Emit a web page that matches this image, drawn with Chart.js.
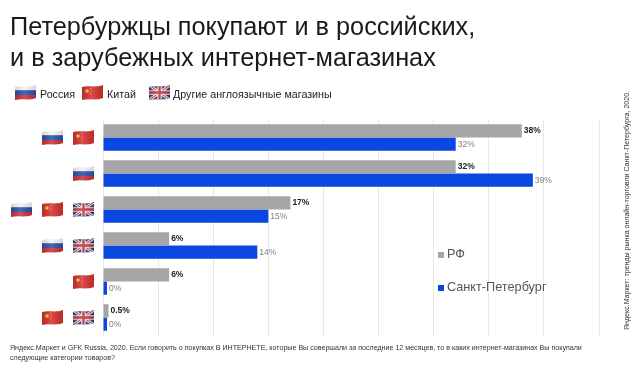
<!DOCTYPE html>
<html lang="ru">
<head>
<meta charset="utf-8">
<title>Петербуржцы покупают</title>
<script src="https://cdn.jsdelivr.net/npm/chart.js@4"></script>
<style>
    html, body { margin: 0; padding: 0; background: #fff; }
    body { width: 639px; height: 366px; position: relative; overflow: hidden; font-family: "Liberation Sans", sans-serif; color: #222; }
    canvas { position: absolute; left: 0; top: 0; }
    .abs { position: absolute; white-space: nowrap; }
    .title { left: 10px; top: 11px; font-size: 25.3px; line-height: 31px; color: #1a1a1a; }
    .key { top: 87px; font-size: 10.7px; line-height: 14px; }
    .flag { position: absolute; width: 21px; height: 15px; }
    .note { left: 10px; top: 344px; font-size: 7.1px; line-height: 9.5px; color: #333; }
    .side { left: 622px; top: 330px; font-size: 7.05px; line-height: 9px; color: #333; transform-origin: 0 0; transform: rotate(-90deg); }
    .series { font-size: 12.7px; line-height: 15px; color: #555; }
    .swatch { position: absolute; width: 6px; height: 6px; }
</style>
</head>
<body>
<svg width="0" height="0" style="position:absolute">
    <defs>
        <clipPath id="wave"><path d="M0 2C7 0 13 3 21 0V13C13 16 7 13 0 15Z"/></clipPath>
        <linearGradient id="shade" x1="0" x2="1" y1="0" y2="0">
            <stop offset="0" stop-color="#000" stop-opacity=".12"/>
            <stop offset=".45" stop-color="#fff" stop-opacity=".14"/>
            <stop offset="1" stop-color="#000" stop-opacity=".12"/>
        </linearGradient>
        <symbol id="ru" viewBox="0 0 21 15">
            <g clip-path="url(#wave)">
                <rect width="21" height="15" fill="#f4f4f6"/>
                <rect y="5.2" width="21" height="5" fill="#2b4fa8"/>
                <rect y="10" width="21" height="5" fill="#c8313a"/>
                <rect width="21" height="15" fill="url(#shade)"/>
            </g>
        </symbol>
        <symbol id="cn" viewBox="0 0 21 15">
            <g clip-path="url(#wave)">
                <rect width="21" height="15" fill="#d4302c"/>
                <circle cx="5" cy="6" r="1.8" fill="#f4c63a"/>
                <circle cx="8.5" cy="3.6" r=".5" fill="#f4c63a"/>
                <circle cx="9.2" cy="6" r=".5" fill="#f4c63a"/>
                <circle cx="8.3" cy="8.3" r=".5" fill="#f4c63a"/>
                <rect width="21" height="15" fill="url(#shade)"/>
            </g>
        </symbol>
        <symbol id="uk" viewBox="0 0 21 15">
            <g clip-path="url(#wave)">
                <rect width="21" height="15" fill="#2c3f85"/>
                <path d="M0 0L21 15M21 0L0 15" stroke="#eee" stroke-width="3"/>
                <path d="M0 0L21 15M21 0L0 15" stroke="#c9303a" stroke-width="1"/>
                <path d="M10.5 0V15M0 7.5H21" stroke="#eee" stroke-width="4.4"/>
                <path d="M10.5 0V15M0 7.5H21" stroke="#c9303a" stroke-width="2.4"/>
                <rect width="21" height="15" fill="url(#shade)"/>
            </g>
        </symbol>
    </defs>
</svg>

<canvas id="chart" width="639" height="366"></canvas>

<div class="abs title">Петербуржцы покупают и в российских,<br>и в зарубежных интернет-магазинах</div>
<div class="abs key" style="left:40px">Россия</div>
<div class="abs key" style="left:107px">Китай</div>
<div class="abs key" style="left:173px">Другие англоязычные магазины</div>
<div class="abs note">Яндекс.Маркет и GFK Russia, 2020. Если говорить о покупках В ИНТЕРНЕТЕ, которые Вы совершали за последние 12 месяцев, то в каких интернет-магазинах Вы покупали<br>следующие категории товаров?</div>
<div class="abs side">Яндекс.Маркет: тренды рынка онлайн-торговли Санкт-Петербурга, 2020.</div>

<script>
const categories = ["Россия, Китай", "Россия", "Россия, Китай, другие", "Россия, другие", "Китай", "Китай, другие"];
const rfValues = [38, 32, 17, 6, 6, 0.5];
const spbValues = [32, 39, 15, 14, 0, 0];
const rowFlags = [
    ["ru", "cn"],
    ["ru"],
    ["ru", "cn", "uk"],
    ["ru", "uk"],
    ["cn"],
    ["cn", "uk"]
];
const legendFlags = [["ru", 15], ["cn", 82], ["uk", 149]];
const seriesNames = ["РФ", "Санкт-Петербург"];
const seriesColors = ["#a6a6a6", "#0a46e0"];
const labelColors = ["#222222", "#808080"];

function addFlag(name, left, top) {
    const svg = document.createElementNS("http://www.w3.org/2000/svg", "svg");
    svg.setAttribute("class", "flag");
    svg.setAttribute("viewBox", "0 0 21 15");
    svg.style.left = left + "px";
    svg.style.top = top + "px";
    const use = document.createElementNS("http://www.w3.org/2000/svg", "use");
    use.setAttribute("href", "#" + name);
    svg.appendChild(use);
    document.body.appendChild(svg);
}

// value labels next to the bars
const barLabels = {
    id: "barLabels",
    afterDatasetsDraw(chart) {
        const ctx = chart.ctx;
        ctx.save();
        ctx.textBaseline = "middle";
        chart.data.datasets.forEach((ds, i) => {
            ctx.fillStyle = labelColors[i];
            ctx.font = (i === 0 ? "bold " : "") + "8.5px 'Liberation Sans'";
            chart.getDatasetMeta(i).data.forEach((bar, j) => {
                ctx.fillText(ds.data[j] + "%", bar.x + 2, bar.y);
            });
        });
        ctx.restore();
    }
};

const chart = new Chart(document.getElementById("chart").getContext("2d"), {
    type: "bar",
    data: {
        labels: categories,
        datasets: [
            { label: seriesNames[0], data: rfValues, backgroundColor: seriesColors[0] },
            { label: seriesNames[1], data: spbValues, backgroundColor: seriesColors[1] }
        ]
    },
    options: {
        indexAxis: "y",
        responsive: false,
        animation: false,
        layout: { padding: { left: 103, right: 40, top: 119.5, bottom: 30.5 } },
        datasets: { bar: { categoryPercentage: 0.74, barPercentage: 1, minBarLength: 4 } },
        plugins: { legend: { display: false }, tooltip: { enabled: false } },
        scales: {
            x: {
                min: 0,
                max: 45,
                ticks: { display: false, stepSize: 5 },
                border: { display: false },
                grid: { color: "#e8e8e8", drawTicks: false }
            },
            y: {
                ticks: { display: false },
                border: { display: false },
                grid: { display: false, drawTicks: false }
            }
        }
    },
    plugins: [barLabels]
});

// flags for each row, right aligned against the plot
rowFlags.forEach((flags, i) => {
    const y = chart.scales.y.getPixelForTick(i);
    flags.forEach((name, k) => {
        addFlag(name, 73 - (flags.length - 1 - k) * 31, y - 8);
    });
});
legendFlags.forEach(([name, left]) => addFlag(name, left, 85));

// series key inside the plot
const keyTop = [255, 288];
seriesNames.forEach((name, i) => {
    const swatch = document.createElement("div");
    swatch.className = "swatch";
    swatch.style.cssText = `left:438px;top:${keyTop[i] - 3}px;background:${seriesColors[i]}`;
    document.body.appendChild(swatch);
    const text = document.createElement("div");
    text.className = "abs series";
    text.style.cssText = `left:447px;top:${keyTop[i] - 8}px`;
    text.textContent = name;
    document.body.appendChild(text);
});
</script>
</body>
</html>
